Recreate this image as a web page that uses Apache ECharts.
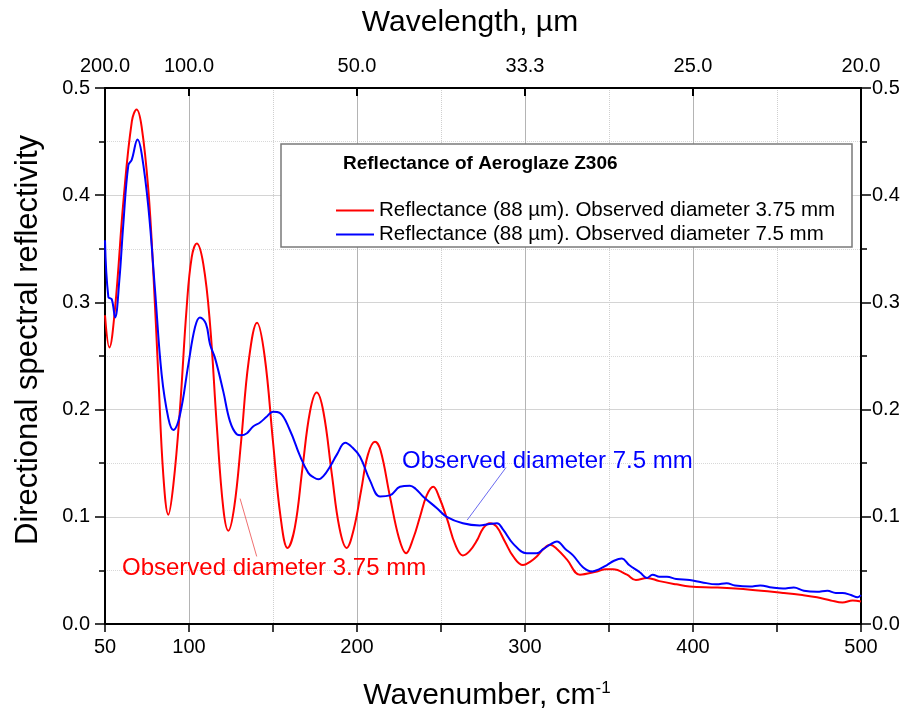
<!DOCTYPE html>
<html><head><meta charset="utf-8">
<script src="https://cdn.jsdelivr.net/npm/echarts@6/dist/echarts.min.js"></script>
<style>html,body{margin:0;padding:0;background:#fff}#c{width:915px;height:718px}</style>
</head><body><div id="c"></div>
<script>
// Wavenumber (cm-1) and reflectivity for the 3.75 mm observation (red)
const redX = [50,52.6,56,61,66,68.8,71.8,75.8,78.8,81.7,84.7,87.7,90.7,94.6,98.6,101.6,104.6,108.5,112.5,116.5,120.4,123.4,127,131,135.5,140.5,145,150,154.5,158.7,163,167.5,172,176,180,185,189.5,193.8,198,202.5,206.5,210.7,214,219.6,225,229.2,233.5,237.5,241.5,245.4,249,253.6,258.5,263,267,271.4,275,279,283,288,293,298.8,303,307,311,315,319,325,332.7,342.9,348,352.4,360.7,366,372.6,380,390,398,414,434,453.6,465,473.8,482,489,495,500];
const redY = [0.288,0.258,0.295,0.395,0.469,0.480,0.464,0.405,0.327,0.233,0.139,0.102,0.130,0.200,0.295,0.342,0.355,0.336,0.280,0.186,0.108,0.087,0.110,0.170,0.245,0.281,0.250,0.170,0.100,0.071,0.090,0.145,0.198,0.216,0.198,0.140,0.090,0.071,0.088,0.125,0.158,0.170,0.162,0.119,0.080,0.066,0.080,0.100,0.120,0.128,0.118,0.098,0.074,0.064,0.068,0.078,0.089,0.094,0.091,0.077,0.063,0.055,0.058,0.063,0.070,0.074,0.070,0.060,0.046,0.049,0.051,0.051,0.046,0.041,0.043,0.040,0.037,0.035,0.034,0.032,0.029,0.027,0.025,0.022,0.020,0.022,0.021];
// Wavenumber (cm-1) and reflectivity for the 7.5 mm observation (blue)
const blueX = [50,52,54,56,58.5,60.9,63.9,65.9,69.4,71.8,75.8,79.8,83.7,87.7,90.7,94.6,99.6,103.6,106.5,110.1,112.5,115.5,120.4,124.4,128.4,131,134.5,138,142.3,146,150,154,160,166,171,174,177,180,184,188,193,197,201.8,207.7,213.7,219.6,225.6,231.5,235,239.3,247.6,253.4,263,273,278,283.3,287,292.9,301,307,311,314.9,319,324,328.6,334.5,339.9,344,348.8,353,357.7,362,368.5,372.6,376,380,384.5,390,398,405,414,420,425,434,440,447,453.6,460,466,473.8,480,485,489,494,498,500];
const blueY = [0.358,0.305,0.303,0.286,0.320,0.373,0.428,0.433,0.452,0.439,0.389,0.311,0.233,0.192,0.181,0.195,0.242,0.277,0.286,0.280,0.261,0.248,0.217,0.189,0.177,0.176,0.178,0.184,0.188,0.193,0.198,0.197,0.181,0.157,0.141,0.137,0.135,0.138,0.147,0.158,0.169,0.165,0.156,0.134,0.119,0.120,0.128,0.129,0.126,0.119,0.108,0.100,0.094,0.092,0.093,0.094,0.088,0.075,0.066,0.066,0.070,0.074,0.077,0.070,0.064,0.053,0.049,0.051,0.055,0.059,0.061,0.055,0.048,0.043,0.046,0.044,0.044,0.042,0.041,0.039,0.037,0.038,0.036,0.035,0.036,0.034,0.033,0.034,0.031,0.030,0.031,0.029,0.029,0.027,0.025,0.027];
const xLabelValues = [50,100,200,300,400,500];
const seriesNames = ['Reflectance (88 µm). Observed diameter 3.75 mm','Reflectance (88 µm). Observed diameter 7.5 mm'];
const legendTitle = 'Reflectance of Aeroglaze Z306';
const yTitle = 'Directional spectral reflectivity';
const redNote = 'Observed diameter 3.75 mm';
const blueNote = 'Observed diameter 7.5 mm';
const redLeader = [[130.4,0.117],[140.3,0.063]];
const blueLeader = [[288.7,0.146],[265.6,0.097]];

const FF = '"Liberation Sans", Arial, sans-serif';
const zip = (xs, ys) => xs.map((x, i) => [x, ys[i]]);
const chart = echarts.init(document.getElementById('c'), null, {renderer: 'canvas'});
const axisLine = {show: true, onZero: false, lineStyle: {color: '#000', width: 2}};
const yCommon = {
  type: 'value', min: 0, max: 0.5, interval: 0.1,
  axisLine: axisLine,
  axisTick: {show: true, length: 10, lineStyle: {color: '#000', width: 1.5}},
  minorTick: {show: true, splitNumber: 2, length: 6, lineStyle: {color: '#000', width: 1.5}},
  axisLabel: {fontSize: 20, color: '#000', fontFamily: FF, margin: 15, formatter: v => v.toFixed(1)}
};
chart.setOption({
  animation: false,
  backgroundColor: '#fff',
  grid: {left: 105, right: 54, top: 88, bottom: 94},
  xAxis: [
    {type: 'value', position: 'bottom', min: 50, max: 500, interval: 50,
     name: 'Wavenumber, cm{s|-1}', nameLocation: 'middle', nameGap: 56,
     nameTextStyle: {fontSize: 30, color: '#000', fontFamily: FF, padding: [0, 0, 0, 8],
       rich: {s: {fontSize: 17, color: '#000', fontFamily: FF, verticalAlign: 'top', padding: [0, 0, 14, 0]}}},
     axisLine: axisLine,
     axisTick: {show: true, length: 8, lineStyle: {color: '#000', width: 1.5}},
     axisLabel: {customValues: xLabelValues, fontSize: 20, color: '#000', fontFamily: FF, margin: 13},
     splitLine: {show: true, lineStyle: {color: '#cfcfcf', type: 'dotted', width: 1}}},
    {type: 'value', position: 'top', min: 50, max: 500,
     name: 'Wavelength, µm', nameLocation: 'middle', nameGap: 50,
     nameTextStyle: {fontSize: 30, color: '#000', fontFamily: FF, padding: [0, 26, 0, 0]},
     axisLine: axisLine,
     axisTick: {show: true, customValues: xLabelValues, inside: true, length: 8, lineStyle: {color: '#000', width: 2}},
     axisLabel: {customValues: xLabelValues, fontSize: 20, color: '#000', fontFamily: FF, margin: 12,
       formatter: v => (10000 / v).toFixed(1)},
     splitLine: {show: true, lineStyle: {color: '#b4b4b4', width: 1}}}
  ],
  yAxis: [
    Object.assign({}, yCommon, {position: 'left',
      splitLine: {show: true, lineStyle: {color: '#d4d4d4', width: 1}},
      minorSplitLine: {show: true, lineStyle: {color: '#d8d8d8', type: 'dotted', width: 1}}}),
    Object.assign({}, yCommon, {position: 'right', axisLabel: Object.assign({}, yCommon.axisLabel, {margin: 11}),
      splitLine: {show: false}})
  ],
  legend: {
    data: seriesNames, orient: 'vertical', left: 331, top: 195,
    icon: 'rect', itemWidth: 38, itemHeight: 2, itemGap: 3, selectedMode: false,
    textStyle: {fontSize: 20.5, color: '#000', fontFamily: FF, lineHeight: 20}, z: 10
  },
  graphic: [
    {type: 'rect', z: 5, shape: {x: 281, y: 144, width: 571, height: 103},
     style: {fill: '#fff', stroke: '#7a7a7a', lineWidth: 1.5}},
    {type: 'text', z: 6, x: 343, y: 164,
     style: {text: legendTitle, font: 'bold 19px ' + FF, fill: '#000', textVerticalAlign: 'middle'}},
    {type: 'text', z: 6, x: 28, y: 340, rotation: Math.PI / 2,
     style: {text: yTitle, font: '31px ' + FF, fill: '#000', textAlign: 'center', textVerticalAlign: 'middle'}},
    {type: 'text', z: 6, x: 122, y: 568,
     style: {text: redNote, font: '24px ' + FF, fill: '#ff0000', textVerticalAlign: 'middle'}},
    {type: 'text', z: 6, x: 402, y: 461,
     style: {text: blueNote, font: '24px ' + FF, fill: '#0000ff', textVerticalAlign: 'middle'}}
  ],
  series: [
    {name: seriesNames[0], type: 'line', data: zip(redX, redY), showSymbol: false, smooth: 0.4,
     lineStyle: {color: '#ff0000', width: 2}, itemStyle: {color: '#ff0000'}, z: 3,
     markLine: {silent: true, symbol: 'none', label: {show: false},
       lineStyle: {color: '#f07070', width: 1, type: 'solid'},
       data: [[{coord: redLeader[0]}, {coord: redLeader[1]}]]}},
    {name: seriesNames[1], type: 'line', data: zip(blueX, blueY), showSymbol: false, smooth: 0.4,
     lineStyle: {color: '#0000ff', width: 2}, itemStyle: {color: '#0000ff'}, z: 4,
     markLine: {silent: true, symbol: 'none', label: {show: false},
       lineStyle: {color: '#6a6af0', width: 1, type: 'solid'},
       data: [[{coord: blueLeader[0]}, {coord: blueLeader[1]}]]}}
  ]
});
</script></body></html>
